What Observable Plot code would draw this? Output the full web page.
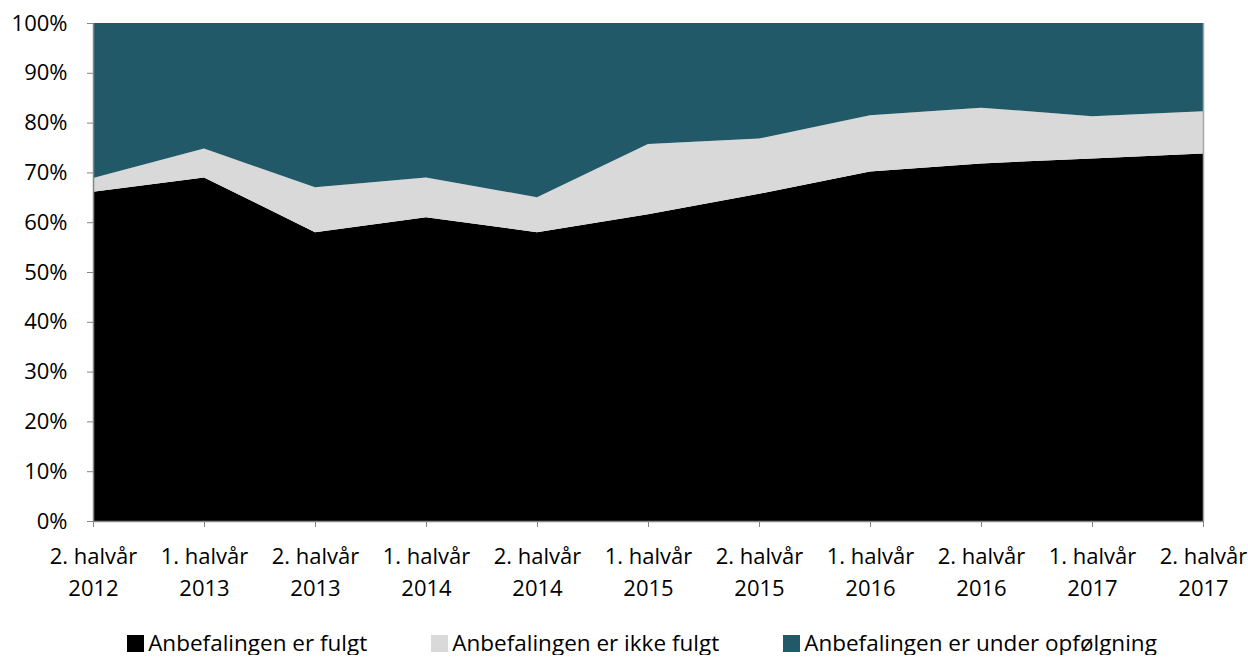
<!DOCTYPE html>
<html>
<head>
<meta charset="utf-8">
<script src="https://cdn.jsdelivr.net/npm/d3@7"></script>
<script src="https://cdn.jsdelivr.net/npm/@observablehq/plot@0.6"></script>
<style>
  body { margin: 0; background: #fff; font-family: "Open Sans", "Noto Sans", sans-serif; }
  #chart svg { display: block; }
  .legend { display: flex; justify-content: center; margin-top: 17px; font-size: 22.5px; color: #000; padding-left: 36px; line-height: 1; }
  .legend .item { display: flex; align-items: center; margin: 0 32px; }
  .legend .sw { width: 17px; height: 17px; margin-right: 4px; }
</style>
</head>
<body>
<div id="chart"></div>
<div class="legend" id="legend"></div>
<script>
const periods = ["2. halvår\n2012","1. halvår\n2013","2. halvår\n2013","1. halvår\n2014","2. halvår\n2014","1. halvår\n2015","2. halvår\n2015","1. halvår\n2016","2. halvår\n2016","1. halvår\n2017","2. halvår\n2017"];
const seriesNames = ["Anbefalingen er fulgt","Anbefalingen er ikke fulgt","Anbefalingen er under opfølgning"];
const fulgt        = [66.1, 69.0, 58.0, 61.0, 58.0, 61.6, 65.7, 70.2, 71.8, 72.8, 73.8];
const ikkeFulgt    = [2.8, 5.8, 9.0, 8.0, 7.0, 14.1, 11.1, 11.3, 11.2, 8.5, 8.5];
const underOpf     = [31.1, 25.2, 33.0, 31.0, 35.0, 24.3, 23.2, 18.5, 17.0, 18.7, 17.7];
const colors = ["#000000", "#d9d9d9", "#215968"];

const data = [];
[fulgt, ikkeFulgt, underOpf].forEach((arr, si) => {
  arr.forEach((v, i) => data.push({period: periods[i], series: seriesNames[si], value: v}));
});

const chart = Plot.plot({
  width: 1248,
  height: 615,
  marginLeft: 93,
  marginRight: 45,
  marginTop: 23,
  marginBottom: 94,
  style: {fontFamily: "'Open Sans', 'Noto Sans', sans-serif", fontSize: "22px", color: "#000", background: "#fff"},
  x: {type: "point", domain: periods, padding: 0, label: null},
  y: {domain: [0, 100], label: null},
  color: {domain: seriesNames, range: colors},
  marks: [
    Plot.areaY(data, {x: "period", y: "value", z: "series", fill: "series", order: seriesNames}),
    Plot.ruleX([periods[periods.length - 1]], {stroke: "#a6a6a6", strokeWidth: 1.5}),
    Plot.axisY({ticks: d3.range(0, 101, 10), tickFormat: d => d + "%", tickSize: 6, tickPadding: 20, stroke: "#868686", fill: "#000", fontSize: 22}),
    Plot.ruleX([periods[0]], {stroke: "#868686", strokeWidth: 1.5}),
    Plot.axisX({tickSize: 6, tickPadding: 14, stroke: "#868686", fill: "#000", fontSize: 22, lineHeight: 1.45}),
    Plot.ruleY([0], {stroke: "#868686", strokeWidth: 1.5})
  ]
});
document.getElementById("chart").appendChild(chart);

const legend = document.getElementById("legend");
seriesNames.forEach((name, i) => {
  const item = document.createElement("div");
  item.className = "item";
  const sw = document.createElement("div");
  sw.className = "sw";
  sw.style.background = colors[i];
  const t = document.createElement("span");
  t.textContent = name;
  item.appendChild(sw);
  item.appendChild(t);
  legend.appendChild(item);
});
</script>
</body>
</html>
